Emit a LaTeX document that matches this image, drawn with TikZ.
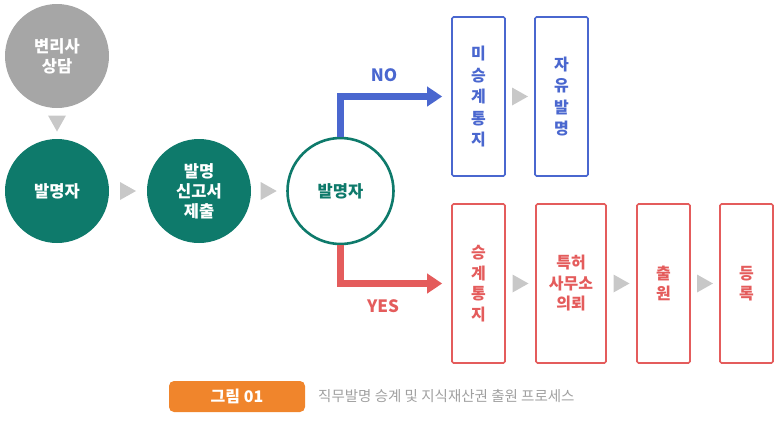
\documentclass[tikz,border=0pt]{standalone}
\usepackage{fontspec}
\setmainfont{Noto Sans CJK KR}
\usetikzlibrary{arrows.meta,calc}
\definecolor{teal1}{HTML}{0E7A6B}
\definecolor{gray1}{HTML}{A6A6A6}
\definecolor{tri}{HTML}{C8C8C8}
\definecolor{blue1}{HTML}{4A67CF}
\definecolor{red1}{HTML}{E45C5C}
\definecolor{orange1}{HTML}{F0852C}
\definecolor{capgray}{HTML}{A0A0A0}
\tikzset{
  circ/.style={circle, minimum size=104pt, inner sep=0pt, text=white, align=center,
    font=\fontsize{16.5}{20}\selectfont\bfseries},
  bluebox/.style={draw=blue1, line width=1.6pt, rounded corners=1.5pt, minimum width=53pt,
    minimum height=159pt, inner sep=0pt, text=blue1, align=center,
    font=\fontsize{16}{21.5}\selectfont\bfseries},
  redbox/.style={draw=red1, line width=1.6pt, rounded corners=1.5pt,
    minimum height=159pt, inner sep=0pt, text=red1, align=center,
    font=\fontsize{16}{20.5}\selectfont\bfseries},
  flow/.style={line width=7pt, -{Triangle[width=19pt,length=15pt]}, shorten >=9pt},
  lbl/.style={font=\fontsize{17}{20}\selectfont\bfseries}
}
\newcommand{\rtri}[2]{\fill[tri] ($(#1.east)!0.5!(#2.west)$) ++(-8,-9) -- ++(16,9) -- ++(-16,9) -- cycle;}
\begin{document}
\begin{tikzpicture}[x=1pt,y=-1pt]
\useasboundingbox (0,0) rectangle (780,421);
% circles
\node[circ, fill=gray1] (c0) at (57,56) {변리사\\상담};
\node[circ, fill=teal1] (c1) at (57,191) {발명자};
\node[circ, fill=teal1] (c2) at (199,191) {발명\\신고서\\제출};
\node[circ, draw=teal1, line width=2.6pt, fill=white, text=teal1, minimum size=106pt] (c3) at (340.5,191) {발명자};
% triangles between circles
\fill[tri] ($(c0.south)!0.5!(c1.north)$) ++(-9,-8) -- ++(18,0) -- ++(-9,16) -- cycle;
\rtri{c1}{c2}
\rtri{c2}{c3}
% blue boxes
\node[bluebox] (n1) at (478.5,96.5) {미\\승\\계\\통\\지};
\node[bluebox] (n2) at (561.5,96.5) {자\\유\\발\\명};
\rtri{n1}{n2}
% red boxes
\node[redbox, minimum width=53pt] (y1) at (478.5,283.5) {승\\계\\통\\지};
\node[redbox, minimum width=70pt] (y2) at (571,283.5) {특허\\사무소\\의뢰};
\node[redbox, minimum width=53pt] (y3) at (663.5,283.5) {출\\원};
\node[redbox, minimum width=53pt] (y4) at (746.5,283.5) {등\\록};
\rtri{y1}{y2}
\rtri{y2}{y3}
\rtri{y3}{y4}
% decision arrows
\draw[flow, blue1] (c3.north) |- (n1.west);
\draw[flow, red1] (c3.south) |- (y1.west);
\node[lbl, text=blue1] (no) at (384,75) {NO};
\node[lbl, text=red1] (yes) at (383,306) {YES};
% caption
\node[fill=orange1, rounded corners=5pt, minimum width=136pt, minimum height=31pt, inner sep=0pt,
  text=white, font=\fontsize{16}{18}\selectfont\bfseries] (cap) at (237,396.5) {그림 01};
\node[anchor=west, text=capgray, inner sep=0pt, font=\fontsize{14.5}{17}\selectfont] (capt) at (318,396.5) {직무발명 승계 및 지식재산권 출원 프로세스};
\end{tikzpicture}
\end{document}
